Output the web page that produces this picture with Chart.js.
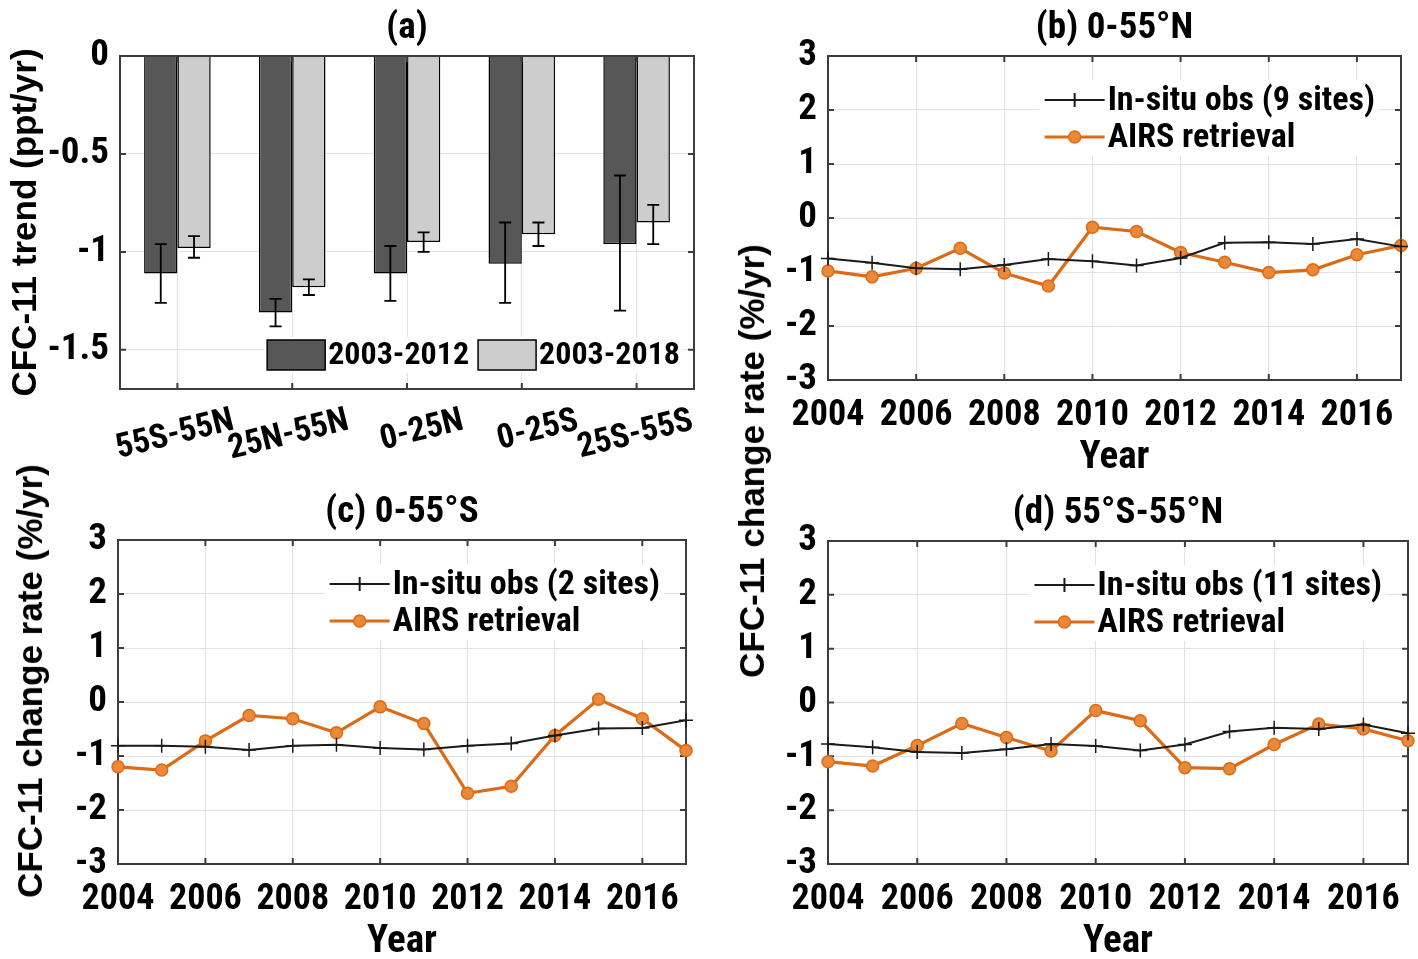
<!DOCTYPE html>
<html>
<head>
<meta charset="utf-8">
<script src="https://cdn.jsdelivr.net/npm/chart.js@4.4.0/dist/chart.umd.min.js"></script>
<style>
    body { margin: 0; background: #fff; width: 1418px; height: 959px; position: relative; overflow: hidden; }
    .pan { position: absolute; }
    .ytitle { position: absolute; font: bold 35px "Liberation Sans", Arial, sans-serif; white-space: nowrap; color: #000;
              transform: translate(-50%, -50%) rotate(-90deg); }
</style>
</head>
<body>
<div class="pan" style="left:0;top:0"><canvas id="ca" width="712" height="470"></canvas></div>
<div class="pan" style="left:712px;top:0"><canvas id="cb" width="706" height="480"></canvas></div>
<div class="pan" style="left:0;top:470px"><canvas id="cc" width="712" height="489"></canvas></div>
<div class="pan" style="left:712px;top:470px"><canvas id="cd" width="706" height="489"></canvas></div>
<div class="ytitle" style="left:30px;top:681px">CFC-11 change rate (%/yr)</div>
<div class="ytitle" style="left:752px;top:461px">CFC-11 change rate (%/yr)</div>
<script>
//les données
var regions = ['55S-55N', '25N-55N', '0-25N', '0-25S', '25S-55S'];
var trend0312 = [-1.11, -1.31, -1.11, -1.06, -0.96];
var low0312 = [-1.26, -1.38, -1.25, -1.26, -1.30];
var high0312 = [-0.96, -1.24, -0.97, -0.85, -0.61];
var trend0318 = [-0.98, -1.18, -0.95, -0.91, -0.85];
var low0318 = [-1.03, -1.22, -1.00, -0.97, -0.96];
var high0318 = [-0.92, -1.14, -0.90, -0.85, -0.76];
var trendTicks = [-1.5, -1, -0.5, 0];

var years = [2004, 2005, 2006, 2007, 2008, 2009, 2010, 2011, 2012, 2013, 2014, 2015, 2016, 2017];
var yearTicks = [2004, 2006, 2008, 2010, 2012, 2014, 2016];
var rateTicks = [-3, -2, -1, 0, 1, 2, 3];

// (b) 0-55N
var insituN = [-0.75, -0.83, -0.93, -0.95, -0.87, -0.76, -0.80, -0.88, -0.74, -0.46, -0.45, -0.48, -0.39, -0.53];
var airsN = [-0.98, -1.09, -0.93, -0.56, -1.02, -1.26, -0.17, -0.25, -0.64, -0.82, -1.01, -0.96, -0.68, -0.51];
// (c) 0-55S
var insituS = [-0.81, -0.81, -0.83, -0.89, -0.81, -0.79, -0.85, -0.88, -0.81, -0.77, -0.62, -0.49, -0.48, -0.34];
var airsS = [-1.20, -1.26, -0.72, -0.25, -0.31, -0.57, -0.09, -0.40, -1.69, -1.56, -0.62, 0.05, -0.31, -0.90];
// (d) 55S-55N
var insituG = [-0.77, -0.83, -0.92, -0.94, -0.87, -0.77, -0.81, -0.89, -0.78, -0.54, -0.47, -0.49, -0.41, -0.57];
var airsG = [-1.10, -1.18, -0.80, -0.39, -0.65, -0.90, -0.15, -0.34, -1.21, -1.23, -0.78, -0.40, -0.49, -0.71];

//les styles
var NARROW = '"Liberation Sans Narrow", "Arial Narrow", "Roboto Condensed", sans-serif';
var BLACK = '#1a1a1a';
var ORANGE = '#dc6b17';
var ORANGE_FILL = '#e88a3a';
var GRID = '#e2e2e2';
var AXIS = '#3c3c3c';

function font (size, lh) {
    return { family: NARROW, size: size, weight: 'bold', lineHeight: lh || 1.2 };
}

//cadre + graduations vers l'intérieur
var boxPlugin = {
    id: 'box',
    draw: function (chart) {
        var a = chart.chartArea, ctx = chart.ctx;
        var xs = chart.scales.x, ys = chart.scales.y;
        ctx.save();
        ctx.strokeStyle = AXIS;
        ctx.lineWidth = 2;
        ctx.beginPath();
        ys.ticks.forEach(function (t) {
            var py = ys.getPixelForValue(t.value);
            ctx.moveTo(a.left, py); ctx.lineTo(a.left + 6, py);
            ctx.moveTo(a.right, py); ctx.lineTo(a.right - 6, py);
        });
        xs.ticks.forEach(function (t, i) {
            var px = xs.getPixelForTick(i);
            ctx.moveTo(px, a.bottom); ctx.lineTo(px, a.bottom - 6);
            ctx.moveTo(px, a.top); ctx.lineTo(px, a.top + 6);
        });
        ctx.stroke();
        ctx.strokeRect(a.left, a.top, a.right - a.left, a.bottom - a.top);
        ctx.restore();
    },
    beforeDatasetsDraw: function (chart, args, opts) { if (!opts.onTop) boxPlugin.draw(chart); },
    afterDatasetsDraw: function (chart, args, opts) { if (opts.onTop) boxPlugin.draw(chart); }
};

//titre du panneau
var titlePlugin = {
    id: 'panelTitle',
    afterDraw: function (chart, args, opts) {
        var a = chart.chartArea, ctx = chart.ctx;
        ctx.save();
        ctx.font = 'bold 37px ' + NARROW;
        ctx.fillStyle = '#000';
        ctx.textAlign = 'center';
        ctx.textBaseline = 'middle';
        ctx.fillText(opts.text, (a.left + a.right) / 2, a.top - 27);
        ctx.restore();
    }
};

//barres d'erreur
var errorBars = {
    id: 'errorBars',
    afterDatasetsDraw: function (chart) {
        var ctx = chart.ctx, ys = chart.scales.y;
        var lows = [low0312, low0318], highs = [high0312, high0318];
        ctx.save();
        ctx.strokeStyle = '#000';
        ctx.lineWidth = 1.8;
        for (var d = 0; d < 2; d++) {
            chart.getDatasetMeta(d).data.forEach(function (bar, i) {
                var x = bar.x;
                var y1 = ys.getPixelForValue(lows[d][i]);
                var y2 = ys.getPixelForValue(highs[d][i]);
                ctx.beginPath();
                ctx.moveTo(x, y1); ctx.lineTo(x, y2);
                ctx.moveTo(x - 6, y1); ctx.lineTo(x + 6, y1);
                ctx.moveTo(x - 6, y2); ctx.lineTo(x + 6, y2);
                ctx.stroke();
            });
        }
        ctx.restore();
    }
};

//étiquettes inclinées (a)
var slantLabels = {
    id: 'slantLabels',
    afterDraw: function (chart) {
        var ctx = chart.ctx, xs = chart.scales.x, a = chart.chartArea;
        ctx.save();
        ctx.font = 'bold 34px ' + NARROW;
        ctx.fillStyle = '#000';
        ctx.textAlign = 'right';
        ctx.textBaseline = 'alphabetic';
        chart.data.labels.forEach(function (lab, i) {
            ctx.save();
            ctx.translate(xs.getPixelForTick(i) + 58, a.bottom + 40);
            ctx.rotate(-14 * Math.PI / 180);
            ctx.fillText(lab, 0, 0);
            ctx.restore();
        });
        ctx.restore();
    }
};

//légende (a)
var barLegend = {
    id: 'barLegend',
    afterDraw: function (chart) {
        var ctx = chart.ctx, a = chart.chartArea;
        var sets = chart.data.datasets;
        ctx.save();
        ctx.font = 'bold 32px ' + NARROW;
        var bw = 58;
        var w0 = ctx.measureText(sets[0].label).width;
        var w1 = ctx.measureText(sets[1].label).width;
        var right = a.right - 14;
        var x = right - (bw + 3 + w0 + 9 + bw + 3 + w1);
        var cy = a.bottom - 34;
        ctx.fillStyle = '#fff';
        ctx.fillRect(x - 3, cy - 18, right - x + 6, 36);
        ctx.lineWidth = 1.5;
        ctx.strokeStyle = '#000';
        ctx.textBaseline = 'middle';
        ctx.fillStyle = sets[0].backgroundColor;
        ctx.fillRect(x, cy - 15, bw, 30);
        ctx.strokeRect(x, cy - 15, bw, 30);
        ctx.fillStyle = '#000';
        ctx.fillText(sets[0].label, x + bw + 3, cy + 1);
        var x2 = x + bw + 3 + w0 + 9;
        ctx.fillStyle = sets[1].backgroundColor;
        ctx.fillRect(x2, cy - 15, bw, 30);
        ctx.strokeRect(x2, cy - 15, bw, 30);
        ctx.fillStyle = '#000';
        ctx.fillText(sets[1].label, x2 + bw + 3, cy + 1);
        ctx.restore();
    }
};

//légende des courbes
var lineLegend = {
    id: 'lineLegend',
    afterDraw: function (chart) {
        var ctx = chart.ctx, a = chart.chartArea;
        var sets = chart.data.datasets;
        ctx.save();
        ctx.font = 'bold 34px ' + NARROW;
        var tw = Math.max(ctx.measureText(sets[0].label).width, ctx.measureText(sets[1].label).width);
        var tx = a.right - 26 - tw;
        var y0 = a.top + 44, y1 = a.top + 81;
        ctx.fillStyle = '#fff';
        ctx.fillRect(tx - 68, a.top + 24, tw + 72, 76);
        // in-situ
        ctx.strokeStyle = BLACK;
        ctx.lineWidth = 2;
        ctx.beginPath();
        ctx.moveTo(tx - 63, y0); ctx.lineTo(tx - 3, y0);
        ctx.moveTo(tx - 33, y0 - 7); ctx.lineTo(tx - 33, y0 + 7);
        ctx.stroke();
        // AIRS
        ctx.strokeStyle = ORANGE;
        ctx.lineWidth = 3;
        ctx.beginPath();
        ctx.moveTo(tx - 63, y1); ctx.lineTo(tx - 3, y1);
        ctx.stroke();
        ctx.fillStyle = ORANGE_FILL;
        ctx.lineWidth = 1.5;
        ctx.beginPath();
        ctx.arc(tx - 33, y1, 6, 0, 2 * Math.PI);
        ctx.fill();
        ctx.stroke();
        ctx.fillStyle = '#000';
        ctx.textBaseline = 'middle';
        ctx.fillText(sets[0].label, tx, y0 + 1);
        ctx.fillText(sets[1].label, tx, y1 + 1);
        ctx.restore();
    }
};

//graphique (a)
new Chart(document.getElementById('ca'), {
    type: 'bar',
    data: {
        labels: regions,
        datasets: [{
            label: '2003-2012',
            data: trend0312,
            backgroundColor: '#575757',
            borderColor: '#000',
            borderWidth: 1.5,
            categoryPercentage: 0.58,
            barPercentage: 1
        }, {
            label: '2003-2018',
            data: trend0318,
            backgroundColor: '#cdcdcd',
            borderColor: '#000',
            borderWidth: 1.5,
            categoryPercentage: 0.58,
            barPercentage: 1
        }]
    },
    options: {
        responsive: false,
        animation: false,
        layout: { padding: { top: 56, right: 18, left: 0, bottom: 0 } },
        plugins: {
            legend: { display: false },
            tooltip: { enabled: false },
            panelTitle: { text: '(a)' },
            box: { onTop: true }
        },
        scales: {
            x: {
                afterFit: function (s) { s.height = 81; },
                ticks: { display: false },
                grid: { color: GRID, offset: false, drawTicks: false },
                border: { display: false }
            },
            y: {
                min: -1.7,
                max: 0,
                afterBuildTicks: function (s) { s.ticks = trendTicks.map(function (v) { return { value: v }; }); },
                afterFit: function (s) { s.width = 120; },
                ticks: { font: font(37), color: '#000', padding: 11, callback: function (v) { return String(v); } },
                grid: { color: GRID, drawTicks: false },
                border: { display: false },
                title: {
                    display: true,
                    text: 'CFC-11 trend (ppt/yr)',
                    color: '#000',
                    font: { family: '"Liberation Sans", Arial, sans-serif', size: 35, weight: 'bold', lineHeight: 1.2 },
                    padding: { top: 5, bottom: 0 }
                }
            }
        }
    },
    plugins: [boxPlugin, titlePlugin, errorBars, slantLabels, barLegend]
});

//graphiques (b), (c), (d)
function lineChart (id, insitu, airs, insituLabel, title, box) {
    return new Chart(document.getElementById(id), {
        type: 'line',
        data: {
            datasets: [{
                label: insituLabel,
                data: years.map(function (y, i) { return { x: y, y: insitu[i] }; }),
                borderColor: BLACK,
                backgroundColor: BLACK,
                borderWidth: 2,
                pointStyle: 'cross',
                pointRadius: 7,
                pointBorderWidth: 1.5,
                pointBorderColor: BLACK,
                tension: 0,
                clip: false
            }, {
                label: 'AIRS retrieval',
                data: years.map(function (y, i) { return { x: y, y: airs[i] }; }),
                borderColor: ORANGE,
                backgroundColor: ORANGE_FILL,
                borderWidth: 3.2,
                pointStyle: 'circle',
                pointRadius: 6,
                pointBackgroundColor: ORANGE_FILL,
                pointBorderColor: ORANGE,
                pointBorderWidth: 1.5,
                tension: 0,
                clip: false
            }]
        },
        options: {
            responsive: false,
            animation: false,
            layout: { padding: { top: box.top, right: box.right, left: 0, bottom: 0 } },
            plugins: {
                legend: { display: false },
                tooltip: { enabled: false },
                panelTitle: { text: title },
                box: { onTop: false }
            },
            scales: {
                x: {
                    type: 'linear',
                    min: 2004,
                    max: 2017,
                    afterBuildTicks: function (s) { s.ticks = yearTicks.map(function (v) { return { value: v }; }); },
                    afterFit: function (s) { s.height = box.xh; },
                    ticks: { font: font(36), color: '#000', padding: 14, maxRotation: 0, autoSkip: false,
                             callback: function (v) { return String(v); } },
                    grid: { color: GRID, drawTicks: false },
                    border: { display: false },
                    title: { display: true, text: 'Year', color: '#000', font: font(39, 0.8), padding: { top: 0, bottom: box.yearPad } }
                },
                y: {
                    min: -3,
                    max: 3,
                    afterBuildTicks: function (s) { s.ticks = rateTicks.map(function (v) { return { value: v }; }); },
                    afterFit: function (s) { s.width = box.yw; },
                    ticks: { font: font(37), color: '#000', padding: 11, callback: function (v) { return String(v); } },
                    grid: { color: GRID, drawTicks: false },
                    border: { display: false }
                }
            }
        },
        plugins: [boxPlugin, titlePlugin, lineLegend]
    });
}

lineChart('cb', insituN, airsN, 'In-situ obs (9 sites)', '(b) 0-55°N', { top: 56, right: 17, xh: 100, yw: 116, yearPad: 6 });
lineChart('cc', insituS, airsS, 'In-situ obs (2 sites)', '(c) 0-55°S', { top: 70, right: 26, xh: 95, yw: 118, yearPad: 1 });
lineChart('cd', insituG, airsG, 'In-situ obs (11 sites)', '(d) 55°S-55°N', { top: 71, right: 10, xh: 95, yw: 116, yearPad: 1 });
</script>
</body>
</html>
